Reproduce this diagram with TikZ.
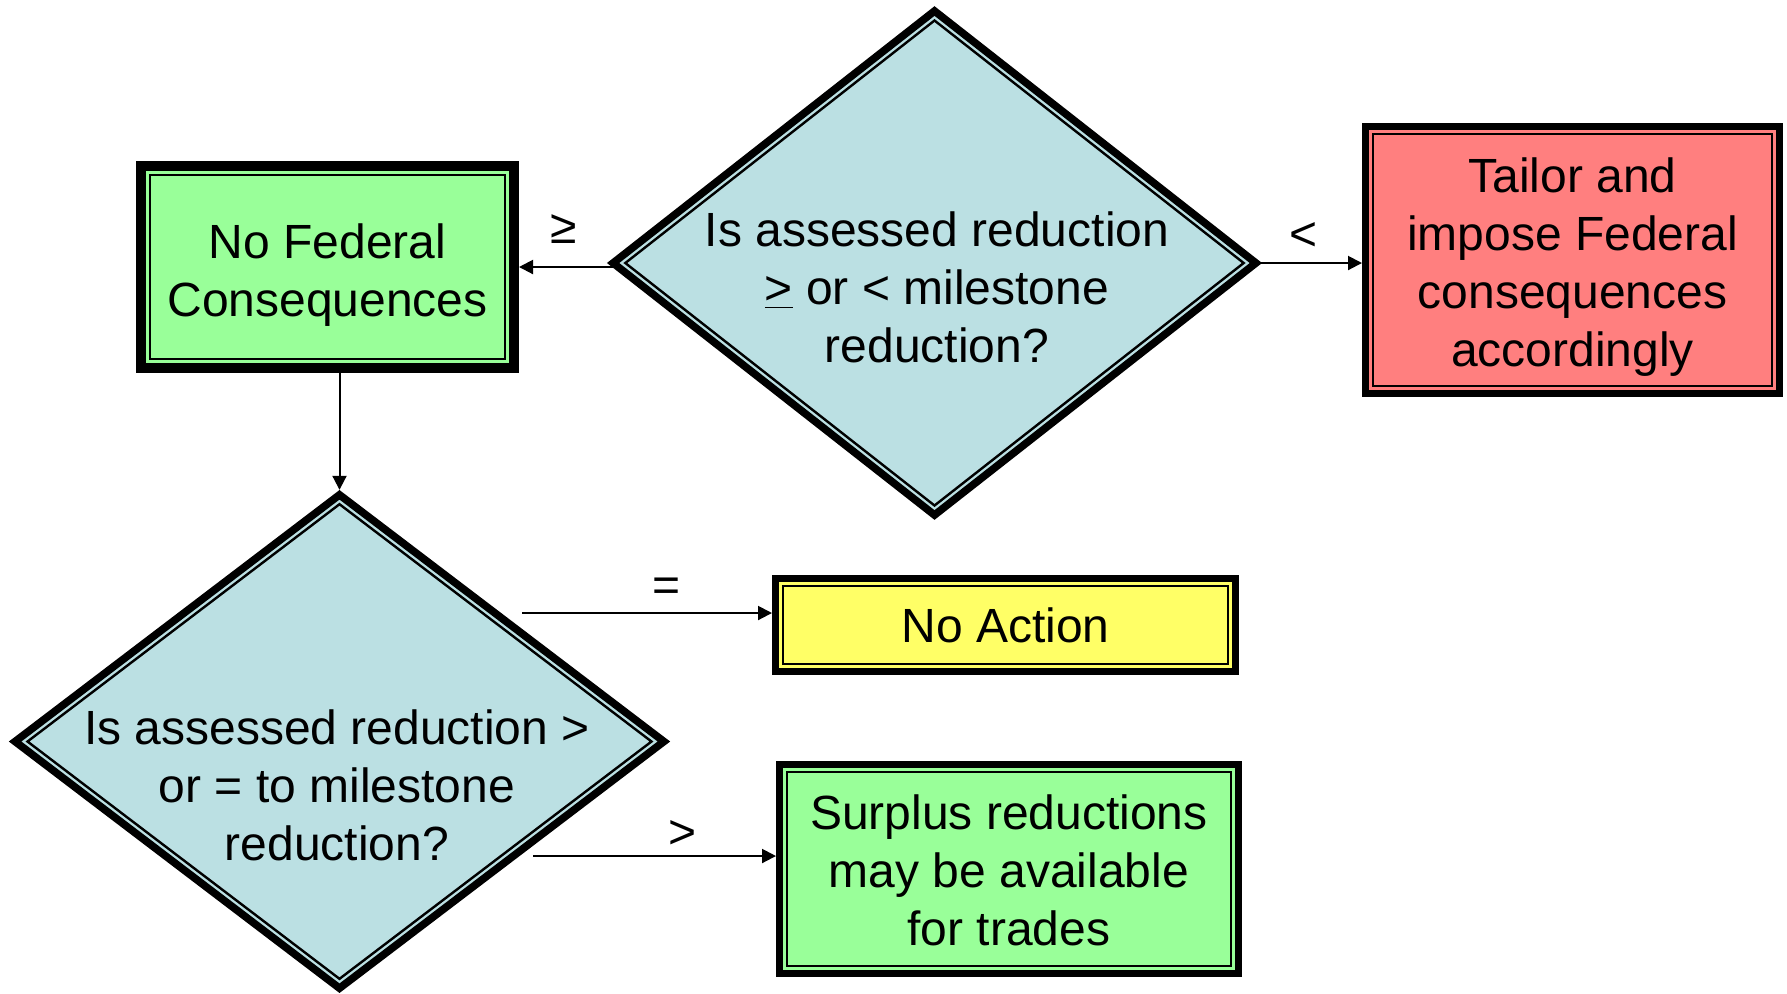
\documentclass[tikz,border=0pt]{standalone}
\usepackage{fontspec}
\setmainfont{Liberation Sans}
\usetikzlibrary{shapes.geometric,arrows.meta,calc}
\definecolor{boxgreen}{HTML}{99FF99}
\definecolor{boxred}{HTML}{FF7F7F}
\definecolor{boxyellow}{HTML}{FFFF66}
\definecolor{diablue}{HTML}{BBE0E3}
\begin{document}
\begin{tikzpicture}[x=0.5pt,y=-0.5pt,
  txt/.style={font=\fontsize{24}{29}\selectfont, align=center, inner sep=0pt},
  rbox/.style={draw=black, line width=#1, outer sep=#1/2, inner sep=0pt,
    font=\fontsize{24}{29}\selectfont, align=center},
  rinner/.style={draw=black, line width=1pt},
  dia/.style={diamond, draw=black, line width=3.8pt, fill=diablue,
    inner sep=0pt, outer sep=0pt, miter limit=10},
  diainner/.style={diamond, draw=black, line width=1.2pt, inner sep=0pt, outer sep=0pt},
  conn/.style={line width=1pt, -{Triangle[length=7pt,width=7pt]}},
  lbl/.style={font=\fontsize{24}{29}\selectfont, inner sep=0pt}
]
\useasboundingbox (0,0) rectangle (1787,993);

% top decision
\node[dia, minimum width=321.4pt, minimum height=252pt] (d1) at (934.5,263) {};
\node[diainner, minimum width=309.2pt, minimum height=242.5pt] (d1i) at (d1.center) {};
\node[txt] (t1) at (937,287.5) {Is assessed reduction\\\underline{>} or < milestone\\reduction?};

% bottom decision
\node[dia, minimum width=324.4pt, minimum height=246.7pt] (d2) at (339.5,741.5) {};
\node[diainner, minimum width=312pt, minimum height=237.3pt] (d2i) at (d2.center) {};
\node[txt] (t2) at (337,785) {Is assessed reduction >\\or = to milestone\\reduction?};

% boxes
\node[rbox=5pt, fill=boxgreen, minimum width=186.5pt, minimum height=101pt] (n1) at (327.5,267) {\rule{0pt}{25.5pt}No Federal\\Consequences};
\draw[rinner] ([shift={(14,14)}]n1.north west) rectangle ([shift={(-14,-14)}]n1.south east);

\node[rbox=3.5pt, fill=boxred, minimum width=207pt, minimum height=133.5pt] (red) at (1572.5,260) {\rule{0pt}{24pt}Tailor and\\impose Federal\\consequences\\accordingly};
\draw[rinner] ([shift={(11,11)}]red.north west) rectangle ([shift={(-11,-11)}]red.south east);

\node[rbox=3.5pt, fill=boxyellow, minimum width=230pt, minimum height=46.5pt] (yel) at (1005.5,625) {No Action};
\draw[rinner] ([shift={(11,11)}]yel.north west) rectangle ([shift={(-11,-11)}]yel.south east);

\node[rbox=3.5pt, fill=boxgreen, minimum width=229.5pt, minimum height=104.5pt] (grn) at (1009,869) {\rule{0pt}{18.4pt}Surplus reductions\\may be available\\for trades};
\draw[rinner] ([shift={(11,11)}]grn.north west) rectangle ([shift={(-11,-11)}]grn.south east);

% connectors
\coordinate (c3) at (522,613);
\coordinate (c4) at (533,856);
\draw[conn] ([yshift=-2pt]d1.west) -- ([yshift=-2pt]d1.west -| n1.east);
\draw[conn] (d1.east) -- (d1.east -| red.west);
\draw[conn, shorten >=2.5pt] (n1.south -| d2.north) -- (d2.north);
\draw[conn] (c3) -- (c3 -| yel.west);
\draw[conn] (c4) -- (c4 -| grn.west);

% labels
\node[lbl] (l1) at (564,229.5) {≥};
\node[lbl] (l2) at (1303,236) {<};
\node[lbl] (l3) at (667,590) {=};
\node[lbl] (l4) at (683,834) {>};
\end{tikzpicture}
\end{document}
